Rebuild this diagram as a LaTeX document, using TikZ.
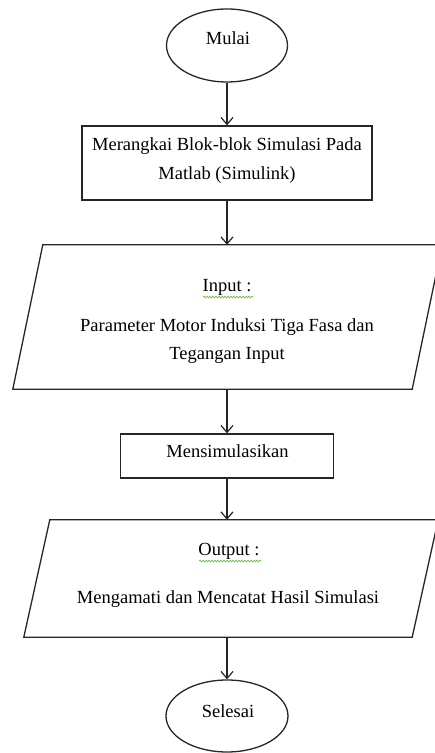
\documentclass[tikz,border=0pt]{standalone}
\usepackage{fontspec}
\setmainfont{Liberation Serif}
\usetikzlibrary{shapes.geometric,arrows.meta,decorations.pathmorphing}
\begin{document}
\begin{tikzpicture}[x=1pt,y=1pt,
  outline/.style={draw=black!85, line width=1.3pt},
  ellbox/.style={outline, ellipse, inner sep=0pt, minimum width=121pt, minimum height=73pt},
  rectbox/.style={outline, rectangle, inner sep=0pt},
  ghost/.style={inner sep=0pt},
  lbl/.style={inner sep=0pt, anchor=base, font=\fontsize{18.5}{22}\selectfont},
  conn/.style={draw=black!85, line width=1.3pt, -{Straight Barb[length=7pt,width=12pt,line width=1.2pt]}},
  squig/.style={draw={rgb,255:red,110;green,190;blue,80}, line width=0.7pt,
    decorate, decoration={snake, amplitude=0.9pt, segment length=3pt}}]
\path[use as bounding box] (0,0) rectangle (435,753);
\clip (0,0) rectangle (435,753);

% Mulai
\node[ellbox] (mulai) at (227,707.5) {};
\node[lbl] (mulait) at (228,708) {Mulai};

% Rect 1
\node[rectbox, minimum width=290pt, minimum height=74pt] (rangkai) at (227,590) {};
\node[lbl] (rangkait1) at (227,602) {Merangkai Blok-blok Simulasi Pada};
\node[lbl] (rangkait2) at (227,573) {Matlab (Simulink)};

% Input parallelogram
\node[ghost, minimum width=399pt, minimum height=144pt] (inp) at (212.5,436) {};
\draw[outline] ([xshift=30pt]inp.north west) -- ([xshift=30pt]inp.north east)
  -- (inp.south east) -- (inp.south west) -- cycle;
\node[lbl] (inpt0) at (227,461) {Input :};
\draw[squig] (203,456) -- (253,456);
\node[lbl] (inpt1) at (227,421) {Parameter Motor Induksi Tiga Fasa dan};
\node[lbl] (inpt2) at (227,393) {Tegangan Input};

% Mensimulasikan
\node[rectbox, minimum width=213pt, minimum height=44pt] (sim) at (227,297) {};
\node[lbl] (simt) at (227.5,295) {Mensimulasikan};

% Output parallelogram
\node[ghost, minimum width=388pt, minimum height=117pt] (outp) at (218,174.5) {};
\draw[outline] ([xshift=26pt]outp.north west) -- ([xshift=26pt]outp.north east)
  -- (outp.south east) -- (outp.south west) -- cycle;
\node[lbl] (outt0) at (229,197) {Output :};
\draw[squig] (199,192) -- (261,192);
\node[lbl] (outt1) at (228,149) {Mengamati dan Mencatat Hasil Simulasi};

% Selesai
\node[ellbox, minimum width=122pt, minimum height=72pt] (selesai) at (227,37) {};
\node[lbl] (selesait) at (228,35) {Selesai};

% connectors
\draw[conn] (mulai.south) -- (rangkai.north);
\draw[conn] (rangkai.south) -- (rangkai.south |- inp.north);
\draw[conn] (sim.north |- inp.south) -- (sim.north);
\draw[conn] (sim.south) -- (sim.south |- outp.north);
\draw[conn] (selesai.north |- outp.south) -- (selesai.north);
\end{tikzpicture}
\end{document}
